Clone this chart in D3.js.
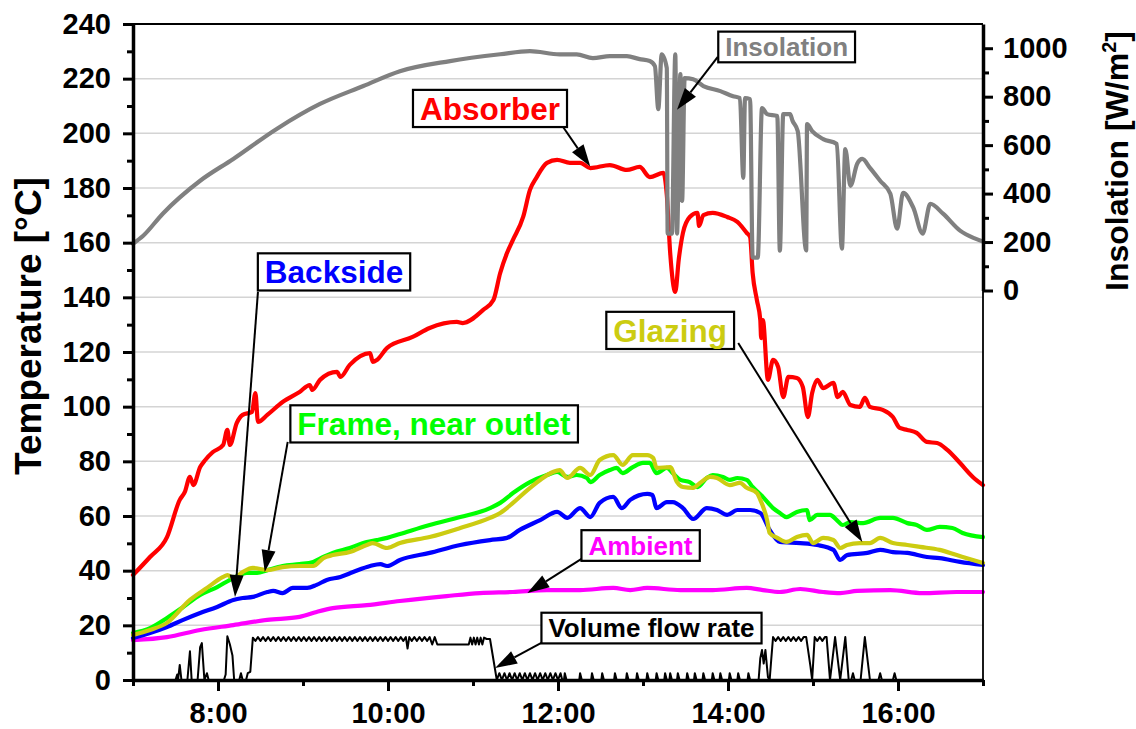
<!DOCTYPE html>
<html>
<head>
<meta charset="utf-8">
<script src="https://cdn.jsdelivr.net/npm/d3@7"></script>
<style>
  body { margin: 0; background: #fff; }
  svg { display: block; }
  text { font-family: "Liberation Sans", Arial, sans-serif; font-weight: bold; }
</style>
</head>
<body>
<svg id="chart" width="1136" height="729"></svg>
<script>
// ---- measured series: [time of day in hours, value] ----
const absorber = [[7.00,38.4],[7.20,45.0],[7.40,52.3],[7.55,65.9],[7.61,68.8],[7.67,74.3],[7.71,71.3],[7.79,77.9],[7.85,80.5],[7.94,83.4],[8.06,86.0],[8.11,91.5],[8.14,86.0],[8.22,94.0],[8.29,97.0],[8.40,98.1],[8.44,105.0],[8.47,94.4],[8.58,97.0],[8.76,101.7],[8.96,105.4],[9.08,107.9],[9.11,106.1],[9.20,109.8],[9.40,112.7],[9.44,110.9],[9.55,115.3],[9.79,119.6],[9.82,116.4],[9.87,117.1],[9.99,121.5],[10.29,125.5],[10.49,128.8],[10.81,131.0],[10.88,130.6],[11.12,135.4],[11.24,139.0],[11.32,148.9],[11.40,156.2],[11.47,161.0],[11.59,169.4],[11.67,179.3],[11.75,184.0],[11.87,189.2],[11.99,190.3],[12.14,189.2],[12.26,189.2],[12.38,187.3],[12.61,188.4],[12.81,186.6],[12.96,187.7],[13.08,184.0],[13.24,185.5],[13.28,177.5],[13.32,156.2],[13.38,142.0],[13.42,153.7],[13.47,163.6],[13.55,169.4],[13.64,170.9],[13.66,166.1],[13.71,170.1],[13.82,170.9],[13.99,169.4],[14.11,167.6],[14.22,163.6],[14.26,162.1],[14.29,148.9],[14.34,139.0],[14.38,131.7],[14.39,125.1],[14.41,131.7],[14.47,109.8],[14.53,117.1],[14.59,114.5],[14.65,103.5],[14.71,110.9],[14.81,110.5],[14.88,107.2],[14.94,96.2],[14.99,105.0],[15.05,109.8],[15.12,106.8],[15.24,108.7],[15.29,103.5],[15.35,105.4],[15.44,100.6],[15.55,99.9],[15.61,103.2],[15.67,99.9],[15.82,98.8],[15.94,96.2],[16.02,92.2],[16.11,91.5],[16.22,90.4],[16.34,87.1],[16.46,86.7],[16.58,84.2],[16.73,79.4],[16.88,74.3],[17.00,71.3]];

const frame = [[7.00,17.2],[7.20,19.0],[7.40,22.7],[7.59,26.7],[7.79,31.1],[7.99,34.0],[8.18,37.3],[8.34,39.2],[8.46,39.2],[8.58,40.2],[8.76,41.7],[8.96,42.4],[9.12,43.2],[9.24,45.0],[9.35,46.5],[9.55,48.3],[9.75,50.5],[9.87,51.2],[9.99,52.0],[10.14,53.4],[10.49,56.7],[10.85,59.6],[11.20,62.9],[11.32,64.8],[11.47,68.4],[11.67,72.4],[11.87,75.0],[11.99,76.1],[12.11,74.3],[12.22,75.0],[12.34,73.9],[12.38,72.4],[12.49,75.0],[12.61,76.8],[12.69,77.6],[12.76,75.7],[12.88,77.9],[13.00,79.4],[13.08,79.4],[13.16,75.7],[13.28,77.6],[13.35,75.7],[13.44,73.2],[13.55,72.4],[13.64,70.6],[13.75,73.9],[13.82,75.0],[13.94,74.3],[14.02,73.2],[14.11,73.9],[14.22,73.2],[14.29,70.6],[14.41,67.0],[14.53,62.9],[14.61,61.1],[14.69,59.6],[14.81,61.5],[14.93,62.2],[14.96,58.5],[15.05,60.4],[15.20,60.4],[15.28,58.5],[15.35,56.7],[15.44,57.8],[15.59,57.4],[15.79,59.3],[15.94,59.3],[16.11,57.4],[16.22,56.7],[16.34,54.9],[16.49,56.0],[16.64,55.6],[16.76,53.8],[17.00,52.3]];

const glazing = [[7.00,16.5],[7.20,18.3],[7.40,20.9],[7.67,29.3],[7.87,33.7],[8.06,37.7],[8.11,38.4],[8.18,37.3],[8.29,39.5],[8.41,41.0],[8.58,40.2],[8.76,41.3],[8.96,41.7],[9.12,41.7],[9.24,44.6],[9.35,45.7],[9.55,46.8],[9.75,49.4],[9.82,50.1],[9.99,48.3],[10.14,50.1],[10.49,52.3],[10.85,55.6],[11.20,59.3],[11.32,61.1],[11.47,64.8],[11.64,69.5],[11.79,73.2],[11.94,76.1],[12.02,76.8],[12.11,73.9],[12.26,77.6],[12.38,75.0],[12.49,80.5],[12.65,82.3],[12.76,78.7],[12.88,82.3],[13.05,82.3],[13.12,81.2],[13.16,77.6],[13.32,77.9],[13.40,72.4],[13.47,70.6],[13.59,70.3],[13.67,72.1],[13.79,74.3],[13.87,73.9],[14.02,71.3],[14.14,72.1],[14.22,70.3],[14.34,68.4],[14.38,65.9],[14.46,58.5],[14.49,53.8],[14.58,52.0],[14.69,50.5],[14.81,52.3],[14.93,53.1],[15.00,50.1],[15.12,52.0],[15.24,51.2],[15.32,48.3],[15.40,49.4],[15.55,50.1],[15.67,50.1],[15.79,52.0],[15.94,50.1],[16.11,49.4],[16.26,48.7],[16.49,47.6],[16.69,45.7],[16.88,43.9],[17.00,42.8]];

const backside = [[7.00,15.4],[7.20,17.2],[7.40,19.4],[7.59,22.0],[7.79,24.5],[7.99,26.7],[8.18,29.3],[8.29,30.0],[8.41,30.4],[8.58,32.2],[8.65,32.6],[8.76,31.8],[8.88,33.7],[9.05,33.7],[9.16,34.8],[9.28,36.6],[9.44,37.7],[9.59,39.5],[9.79,41.7],[9.91,42.4],[9.99,41.7],[10.14,43.9],[10.49,46.5],[10.85,49.4],[11.20,51.2],[11.40,52.0],[11.55,54.9],[11.79,58.5],[11.99,61.5],[12.11,59.3],[12.26,62.9],[12.38,59.6],[12.49,64.8],[12.65,67.0],[12.75,62.9],[12.85,65.9],[13.05,68.1],[13.11,67.7],[13.16,62.9],[13.28,65.1],[13.35,65.1],[13.47,62.9],[13.59,58.9],[13.75,62.9],[13.87,62.2],[13.99,60.4],[14.11,62.2],[14.26,62.2],[14.38,61.1],[14.49,54.9],[14.61,50.5],[14.85,50.1],[15.05,49.4],[15.24,47.6],[15.32,43.9],[15.40,45.7],[15.64,46.5],[15.79,47.6],[15.94,46.8],[16.11,46.5],[16.34,45.0],[16.49,44.6],[16.73,43.2],[17.00,42.1]];

const ambient = [[7.00,14.6],[7.40,15.7],[7.79,18.3],[8.18,20.1],[8.58,22.0],[8.96,23.1],[9.16,24.9],[9.35,26.3],[9.75,27.4],[10.14,28.9],[10.69,30.7],[11.08,31.8],[11.47,32.2],[11.87,32.9],[12.26,32.9],[12.65,33.7],[12.85,32.9],[13.05,33.7],[13.44,32.9],[13.82,32.9],[14.22,33.7],[14.41,32.9],[14.61,32.2],[14.85,33.3],[15.12,32.2],[15.32,31.8],[15.52,32.6],[15.91,32.9],[16.29,31.8],[16.69,32.2],[17.00,32.2]];

// insolation in W/m2 (right axis)
const insolation = [[7.00,193],[7.12,226],[7.35,317],[7.79,453],[8.18,543],[8.69,667],[9.20,770],[9.71,844],[10.14,905],[10.73,947],[11.32,975],[11.67,988],[12.02,975],[12.22,975],[12.41,959],[12.61,967],[12.81,967],[12.96,955],[13.08,947],[13.14,926],[13.18,749],[13.22,975],[13.28,918],[13.29,235],[13.34,235],[13.38,975],[13.40,235],[13.44,893],[13.46,370],[13.49,877],[13.59,872],[13.71,844],[13.91,823],[14.06,802],[14.14,794],[14.18,465],[14.20,794],[14.26,790],[14.29,136],[14.35,136],[14.40,753],[14.46,728],[14.58,720],[14.61,165],[14.65,728],[14.73,728],[14.76,700],[14.82,658],[14.92,165],[14.93,687],[14.99,658],[15.12,625],[15.28,605],[15.34,173],[15.38,584],[15.44,432],[15.52,523],[15.58,543],[15.67,506],[15.79,453],[15.91,399],[15.99,255],[16.06,403],[16.18,342],[16.29,235],[16.38,358],[16.53,317],[16.73,247],[16.91,214],[17.00,202]];

// volume flow rate, drawn against the temperature axis
const flowRate = [[7.00,0],[7.50,0],[7.52,2],[7.53,0],[7.55,5.5],[7.57,0],[7.64,0],[7.67,10.5],[7.69,0],[7.76,0],[7.79,12],[7.81,13.5],[7.84,0],[7.87,2.5],[7.89,0],[8.07,0],[8.09,2],[8.11,16],[8.14,13],[8.17,9],[8.19,0],[8.25,0],[8.27,2.5],[8.29,0],[8.33,0],[8.35,2.5],[8.38,3],[8.41,15.5],
[8.44,14.3],[8.47,15.7],[8.50,14.3],[8.53,15.7],[8.56,14.3],[8.59,15.7],[8.62,14.3],[8.65,15.7],[8.68,14.3],[8.71,15.7],[8.74,14.3],[8.77,15.7],[8.80,14.3],[8.83,15.7],[8.86,14.3],[8.89,15.7],[8.92,14.3],[8.95,15.7],[8.98,14.3],[9.01,15.7],[9.04,14.3],[9.07,15.7],[9.10,14.3],[9.13,15.7],[9.16,14.3],[9.19,15.7],[9.22,14.3],[9.25,15.7],[9.28,14.3],[9.31,15.7],[9.34,14.3],[9.37,15.7],[9.40,14.3],[9.43,15.7],[9.46,14.3],[9.49,15.7],[9.52,14.3],[9.55,15.7],[9.58,14.3],[9.61,15.7],[9.64,14.3],[9.67,15.7],[9.70,14.3],[9.73,15.7],[9.76,14.3],[9.79,15.7],[9.82,14.3],[9.85,15.7],[9.88,14.3],[9.91,15.7],[9.94,14.3],[9.97,15.7],[10.00,14.3],[10.03,15.7],[10.06,14.3],[10.09,15.7],[10.12,14.3],[10.15,15.7],[10.18,14.3],[10.21,15.7],[10.23,11.5],[10.25,15.7],[10.28,14.3],[10.31,15.7],[10.34,14.3],[10.37,15.7],[10.40,14.3],[10.43,15.7],[10.46,14.3],[10.49,15.7],[10.52,13],[10.55,15.7],[10.58,13],
[10.95,13],[10.97,15.5],[10.99,13],[11.01,15.5],[11.03,13],[11.05,15.5],[11.07,13],[11.09,15.5],[11.11,13],[11.13,15.5],[11.16,15],[11.20,15],[11.28,0],
[11.31,2.5],[11.34,0],[11.37,2.5],[11.40,0],[11.43,2.5],[11.46,0],[11.49,2.5],[11.52,0],[11.55,2.5],[11.58,0],[11.61,2.5],[11.64,0],[11.67,2.5],[11.70,0],[11.73,2.5],[11.76,0],[11.79,2.5],[11.82,0],[11.85,2.5],[11.88,0],[11.91,2.5],[11.94,0],[11.97,2.5],[12.00,0],[12.03,2.5],[12.05,0],
[12.07,0],[12.08,2.5],[12.10,0],[12.25,0],[12.26,2.5],[12.28,0],[12.39,0],[12.40,2.5],[12.42,0],[12.51,0],[12.52,2.5],[12.54,0],[12.66,0],[12.67,2.5],[12.69,0],[12.80,0],[12.81,2.5],[12.83,0],[12.92,0],[12.93,2.5],[12.95,0],[13.04,0],[13.05,2.5],[13.07,0],[13.15,0],[13.16,2.5],[13.18,0],[13.25,0],[13.26,2.5],[13.28,0],[13.31,0],[13.32,2.5],[13.34,0],[13.40,0],[13.41,2.5],[13.43,0],[13.51,0],[13.52,2.5],[13.54,0],[13.60,0],[13.61,2.5],[13.63,0],[13.70,0],[13.71,2.5],[13.73,0],[13.81,0],[13.82,2.5],[13.84,0],[13.90,0],[13.91,2.5],[13.93,0],[14.01,0],[14.02,2.5],[14.04,0],[14.11,0],[14.12,2.5],[14.14,0],[14.23,0],[14.24,2.5],[14.26,0],
[14.36,0],[14.38,8],[14.40,11],[14.42,6],[14.44,11],[14.47,1],[14.49,0],[14.51,8],[14.53,15.7],
[14.56,14.3],[14.59,15.7],[14.62,14.3],[14.65,15.7],[14.68,14.3],[14.71,15.7],[14.74,14.3],[14.77,15.7],[14.80,14.3],[14.83,15.7],[14.86,14.3],[14.89,15.7],[14.92,15.7],[14.97,5],[14.99,0],[15.02,15.7],[15.05,14.3],[15.08,15.7],[15.11,14.3],[15.14,15.7],[15.16,15.7],[15.20,0],[15.26,15.7],[15.32,0],[15.38,15.7],[15.42,0],[15.45,0],[15.47,2.5],[15.49,0],[15.56,0],[15.61,15.7],[15.67,0],[15.77,0],[15.79,2.5],[15.81,0],[15.94,0],[15.96,2.5],[15.98,0],[17.00,0]];

// axis ticks
const tempTicks = [0,20,40,60,80,100,120,140,160,180,200,220,240];
const tempMinor = [10,30,50,70,90,110,130,150,170,190,210,230];
const gridTemps = [20,40,60,80,100,120,140,160,180,200,220];
const hourTicks = [8,10,12,14,16];
const hourMinor = [7,9,11,13,15,17];
const insTicks = [0,200,400,600,800,1000];
const insMinor = [100,300,500,700,900];

// labels with arrows, positions in (hour, °C)
const callouts = [
  {text:"Absorber", color:"#ff0000", size:31.5, at:[11.20,209.1], from:[12.06,202.3], to:[12.38,187.9]},
  {text:"Insolation", color:"#808080", size:26, at:[14.69,231.6], from:[13.88,228.0], to:[13.40,208.6]},
  {text:"Backside", color:"#0000ff", size:31.5, at:[9.365,149.3], from:[8.47,142.0], to:[8.20,30.4]},
  {text:"Frame, near outlet", color:"#00ff00", size:31.5, at:[10.54,93.7], from:[8.82,87.1], to:[8.55,39.5]},
  {text:"Glazing", color:"#cccc11", size:31.5, at:[13.32,127.9], from:[14.12,123.3], to:[15.58,50.5]},
  {text:"Ambient", color:"#ff00ff", size:26, at:[12.97,49.2], from:[12.29,44.6], to:[11.64,31.8]},
  {text:"Volume flow rate", color:"#000000", size:26, at:[13.10,19.0], from:[11.82,13.9], to:[11.26,4.4]}
];

const svg = d3.select("#chart");
const plot = {left:133, right:983, top:24, bottom:680};

const x = d3.scaleLinear().domain([7,17]).range([plot.left, plot.right]);
const y = d3.scaleLinear().domain([0,240]).range([plot.bottom, plot.top]);
const yIns = d3.scaleLinear().domain([0,1100]).range([y(142.5), y(240)]);

// horizontal grid
svg.append("g").selectAll("line").data(gridTemps).join("line")
  .attr("x1", x(7)).attr("x2", x(17))
  .attr("y1", d => y(d)).attr("y2", d => y(d))
  .attr("stroke", "#d4d4d4").attr("stroke-width", 1.5);

// smooth measured curves; the flow signal stays piecewise linear
const tempLine = d3.line().x(d => x(d[0])).y(d => y(d[1])).curve(d3.curveMonotoneX);
const insLine = d3.line().x(d => x(d[0])).y(d => yIns(d[1])).curve(d3.curveMonotoneX);
const flowLine = d3.line().x(d => x(d[0])).y(d => y(d[1]));

function drawSeries(data, gen, color, width) {
  svg.append("path").datum(data)
    .attr("d", gen)
    .attr("fill", "none")
    .attr("stroke", color)
    .attr("stroke-width", width)
    .attr("stroke-linejoin", "round")
    .attr("stroke-linecap", "round");
}

drawSeries(ambient, tempLine, "#ff00ff", 4.2);
drawSeries(backside, tempLine, "#0000ff", 4.2);
drawSeries(frame, tempLine, "#00ff00", 4.2);
drawSeries(glazing, tempLine, "#cccc11", 4.2);
drawSeries(absorber, tempLine, "#ff0000", 4.2);
drawSeries(insolation, insLine, "#808080", 4.2);
drawSeries(flowRate, flowLine, "#000000", 2);

// frame lines (top and lower right)
svg.append("line").attr("x1", x(7)).attr("x2", x(17)).attr("y1", y(240)).attr("y2", y(240))
  .attr("stroke", "#000").attr("stroke-width", 1.8);
svg.append("line").attr("x1", x(17)).attr("x2", x(17)).attr("y1", y(142.5)).attr("y2", y(0))
  .attr("stroke", "#000").attr("stroke-width", 1.8);

function styleAxis(g, width) {
  g.select(".domain").attr("stroke-width", width);
  g.selectAll(".tick line").attr("stroke-width", 3);
  g.selectAll("text").attr("font-size", 29).attr("fill", "#000")
    .style("font-family", '"Liberation Sans", Arial, sans-serif').style("font-weight", "bold");
}

// left temperature axis
const leftMinor = svg.append("g").attr("transform", `translate(${plot.left},0)`)
  .call(d3.axisLeft(y).tickValues(tempMinor).tickSize(6).tickSizeOuter(0).tickFormat(""));
leftMinor.select(".domain").remove();
leftMinor.selectAll(".tick line").attr("stroke-width", 3);
const leftAxis = svg.append("g").attr("transform", `translate(${plot.left},0)`)
  .call(d3.axisLeft(y).tickValues(tempTicks).tickSize(10).tickSizeOuter(0).tickPadding(12).tickFormat(d3.format("d")));
styleAxis(leftAxis, 3.5);

// bottom time axis
const bottomMinor = svg.append("g").attr("transform", `translate(0,${plot.bottom})`)
  .call(d3.axisBottom(x).tickValues(hourMinor).tickSize(6).tickSizeOuter(0).tickFormat(""));
bottomMinor.select(".domain").remove();
bottomMinor.selectAll(".tick line").attr("stroke-width", 3);
const bottomAxis = svg.append("g").attr("transform", `translate(0,${plot.bottom})`)
  .call(d3.axisBottom(x).tickValues(hourTicks).tickSize(11).tickSizeOuter(0).tickPadding(11).tickFormat(d => d + ":00"));
styleAxis(bottomAxis, 3.5);

// right insolation axis
const rightMinor = svg.append("g").attr("transform", `translate(${plot.right},0)`)
  .call(d3.axisRight(yIns).tickValues(insMinor).tickSize(6).tickSizeOuter(0).tickFormat(""));
rightMinor.select(".domain").remove();
rightMinor.selectAll(".tick line").attr("stroke-width", 3);
const rightAxis = svg.append("g").attr("transform", `translate(${plot.right},0)`)
  .call(d3.axisRight(yIns).tickValues(insTicks).tickSize(10).tickSizeOuter(0).tickPadding(10).tickFormat(d3.format("d")));
styleAxis(rightAxis, 3.5);

// axis titles
svg.append("text")
  .attr("transform", `translate(41,326) rotate(-90)`)
  .attr("text-anchor", "middle").attr("font-size", 37).attr("fill", "#000")
  .text("Temperature [°C]");

const insTitle = svg.append("text")
  .attr("transform", `translate(1128,161) rotate(-90)`)
  .attr("text-anchor", "middle").attr("font-size", 32).attr("fill", "#000");
insTitle.append("tspan").text("Insolation [W/m");
insTitle.append("tspan").attr("font-size", 20).attr("dy", -12).text("2");
insTitle.append("tspan").attr("dy", 12).text("]");

// callouts: arrow + boxed label
const headLen = 22, headHalf = 7;
callouts.forEach(c => {
  const x0 = x(c.from[0]), y0 = y(c.from[1]);
  const x1 = x(c.to[0]), y1 = y(c.to[1]);
  const dx = x1 - x0, dy = y1 - y0, len = Math.hypot(dx, dy);
  const ux = dx / len, uy = dy / len;
  const bx = x1 - ux * headLen, by = y1 - uy * headLen;
  svg.append("line").attr("x1", x0).attr("y1", y0).attr("x2", bx).attr("y2", by)
    .attr("stroke", "#000").attr("stroke-width", 2);
  svg.append("path")
    .attr("d", `M${x1},${y1}L${bx - uy * headHalf},${by + ux * headHalf}L${bx + uy * headHalf},${by - ux * headHalf}Z`)
    .attr("fill", "#000");

  const cx = x(c.at[0]), cy = y(c.at[1]);
  const g = svg.append("g");
  const rect = g.append("rect");
  const t = g.append("text")
    .attr("x", cx).attr("y", cy + c.size * 0.36)
    .attr("text-anchor", "middle").attr("font-size", c.size).attr("fill", c.color)
    .text(c.text);
  const bb = t.node().getBBox();
  const padX = 7, h = c.size * 1.18;
  rect.attr("x", bb.x - padX).attr("y", cy - h / 2)
    .attr("width", bb.width + 2 * padX).attr("height", h)
    .attr("fill", "#fff").attr("stroke", "#000").attr("stroke-width", 2.2);
});
</script>
</body>
</html>
